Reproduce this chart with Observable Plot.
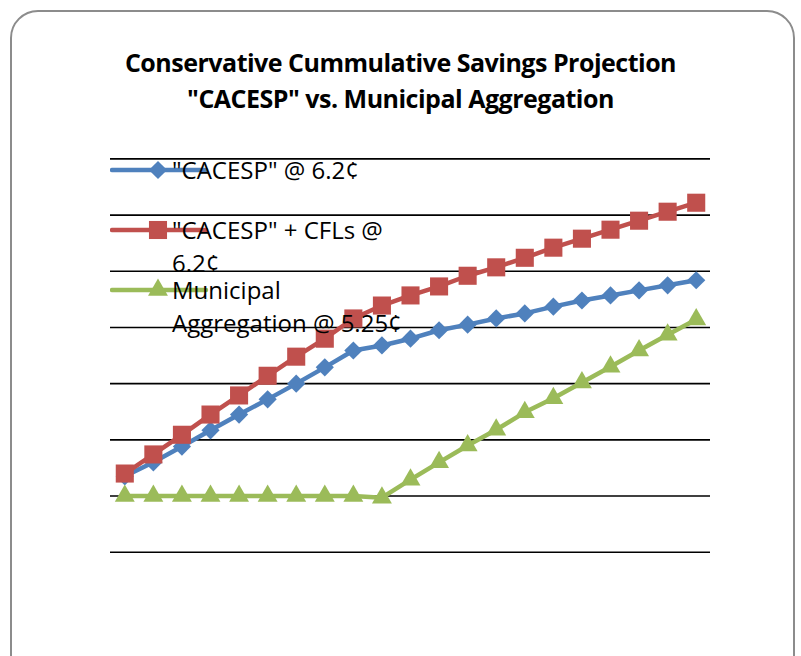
<!DOCTYPE html>
<html><head><meta charset="utf-8">
<script src="https://cdn.jsdelivr.net/npm/d3@7"></script>
<script src="https://cdn.jsdelivr.net/npm/@observablehq/plot@0.6"></script>
<style>
body{margin:0;background:#fff;}
#wrap{position:relative;width:801px;height:656px;overflow:hidden;font-family:"Open Sans",Lato,sans-serif;}
#frame{position:absolute;left:10px;top:10px;width:785px;height:720px;border:2px solid #8c8c8c;border-radius:28px;box-sizing:border-box;}
#title{position:absolute;left:0;width:801px;top:44px;text-align:center;font-weight:bold;font-size:25px;line-height:36px;color:#000;letter-spacing:-0.5px;}
#chart{position:absolute;left:0;top:0;}
.lg{position:absolute;}
.lgt{position:absolute;left:172px;font-size:24px;line-height:33px;color:#000;white-space:nowrap;}
</style></head><body>
<div id="wrap"><div id="frame"></div><div id="chart"></div><div id="title">Conservative Cummulative Savings Projection<br>"CACESP" vs. Municipal Aggregation</div><div id="legend"></div></div>
<script>
const periods = [1,2,3,4,5,6,7,8,9,10,11,12,13,14,15,16,17,18,19,20,21];
const cacesp = [1.35,1.60,1.88,2.17,2.45,2.72,3.00,3.29,3.59,3.68,3.80,3.95,4.05,4.16,4.25,4.37,4.48,4.57,4.66,4.75,4.84];
const cacespCfl = [1.40,1.74,2.09,2.45,2.79,3.14,3.48,3.80,4.16,4.39,4.57,4.73,4.92,5.07,5.24,5.42,5.58,5.74,5.90,6.06,6.22];
const municipal = [1.00,1.00,1.00,1.00,1.00,1.00,1.00,1.00,1.00,0.97,1.29,1.60,1.90,2.18,2.49,2.74,3.02,3.30,3.59,3.87,4.14];
const gridValues = [0,1,2,3,4,5,6,7];
const seriesNames = ['"CACESP" @ 6.2¢', '"CACESP" + CFLs @ 6.2¢', 'Municipal Aggregation @ 5.25¢'];
const legendLines = [['"CACESP" @ 6.2¢'], ['"CACESP" + CFLs @', '6.2¢'], ['Municipal', 'Aggregation @ 5.25¢']];
const colors = ["#4F81BD", "#C0504D", "#9BBB59"];
const symbols = ["diamond2", "square", "triangle"];
const radii = [8.2, 10.2, 7.4];

const seriesValues = [cacesp, cacespCfl, municipal];
const marks = [Plot.ruleY(gridValues, {stroke: "#000", strokeWidth: 1.6})];
seriesValues.forEach((vals, s) => {
  const rows = periods.map((p, i) => ({series: seriesNames[s], period: p, value: vals[i]}));
  marks.push(Plot.line(rows, {x: "period", y: "value", stroke: colors[s], strokeWidth: 4.5}));
  marks.push(Plot.dot(rows, {x: "period", y: "value", symbol: symbols[s], fill: colors[s], stroke: "none", r: radii[s]}));
});

const chart = Plot.plot({
  width: 801, height: 656,
  marginLeft: 110, marginRight: 91, marginTop: 158.4, marginBottom: 104.3,
  x: {domain: [0.5, 21.5], axis: null},
  y: {domain: [0, 7], axis: null},
  marks
});
document.getElementById("chart").appendChild(chart);

// legend
const legend = d3.select("#legend");
const legendY = [170, 230, 290];
seriesNames.forEach((name, s) => {
  const cy = legendY[s];
  const svg = legend.append("svg").attr("class", "lg")
    .style("left", "110px").style("top", (cy - 12) + "px")
    .attr("width", 100).attr("height", 24);
  svg.append("line").attr("x1", 2).attr("x2", 96).attr("y1", 12).attr("y2", 12)
    .attr("stroke", colors[s]).attr("stroke-width", 4.5).attr("stroke-linecap", "round");
  const sym = d3.symbol(s === 0 ? d3.symbolDiamond2 : s === 1 ? d3.symbolSquare : d3.symbolTriangle, Math.PI * radii[s] * radii[s]);
  svg.append("path").attr("d", sym()).attr("transform", "translate(48,12)").attr("fill", colors[s]);
  const t = legend.append("div").attr("class", "lgt").style("top", (cy - 17) + "px");
  t.html(legendLines[s].map(l => l.replace(/&/g, "&amp;").replace(/</g, "&lt;")).join("<br>"));
});
</script>
</body></html>
